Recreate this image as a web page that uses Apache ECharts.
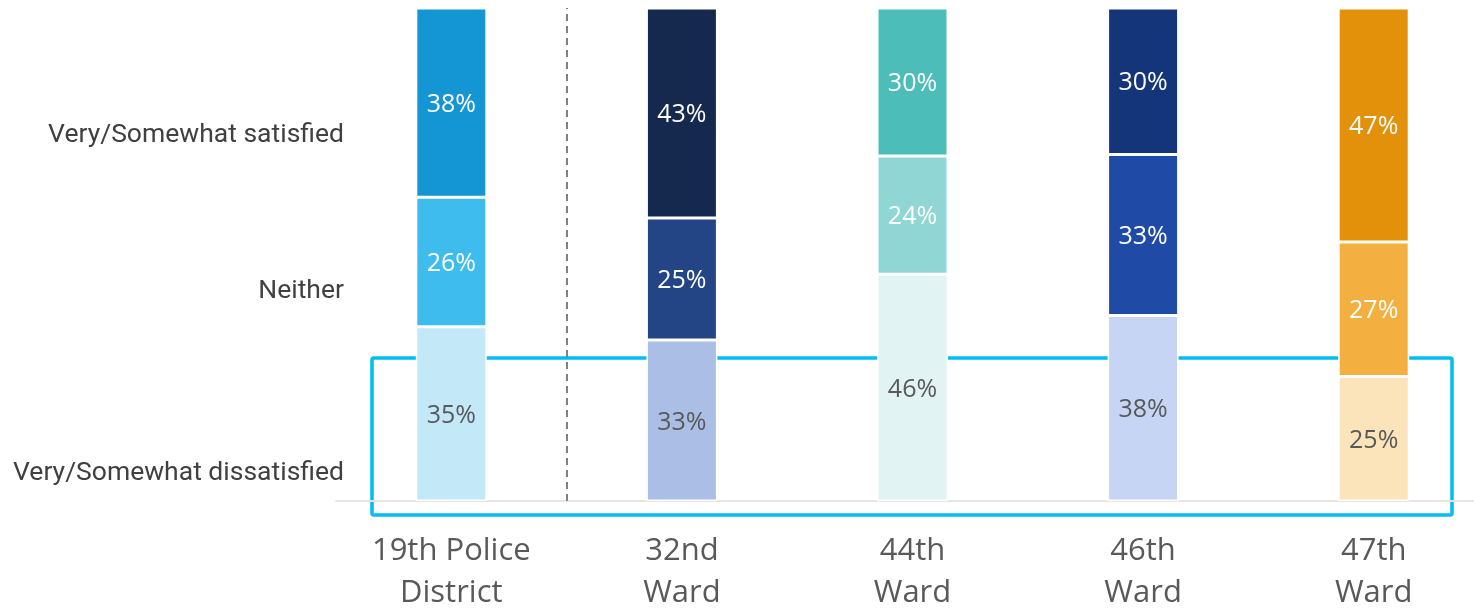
<!DOCTYPE html>
<html>
<head>
<meta charset="utf-8">
<script src="https://cdn.jsdelivr.net/npm/echarts@6/dist/echarts.min.js"></script>
<style>
html,body{margin:0;padding:0;background:#fff;}
#chart{width:1474px;height:608px;}
</style>
</head>
<body>
<div id="chart"></div>
<script>
// Data
var categories = ['19th Police\nDistrict', '32nd\nWard', '44th\nWard', '46th\nWard', '47th\nWard'];
var satisfied    = [38, 43, 30, 30, 47];
var neither      = [26, 25, 24, 33, 27];
var dissatisfied = [35, 33, 46, 38, 25];
var rowLabels = ['Very/Somewhat satisfied', 'Neither', 'Very/Somewhat dissatisfied'];

// Styles
var topColors = ['#1496d4', '#15294f', '#4dbdb9', '#14357a', '#e3900b'];
var midColors = ['#3fbcee', '#234586', '#8fd6d4', '#1f4aa6', '#f3b041'];
var botColors = ['#c3e8f8', '#abbfe6', '#e1f3f3', '#c5d5f3', '#fbe3ba'];

function build(values, colors) {
  return values.map(function (v, i) {
    var total = satisfied[i] + neither[i] + dissatisfied[i];
    return { value: v / total * 100, raw: v, itemStyle: { color: colors[i] } };
  });
}

var chart = echarts.init(document.getElementById('chart'), null, { renderer: 'canvas' });

function segLabel(color) {
  return {
    show: true,
    position: 'inside',
    color: color,
    fontFamily: 'Open Sans',
    fontSize: 25,
    offset: [0, 2],
    formatter: function (p) { return p.data.raw + '%'; }
  };
}

var barCommon = {
  type: 'bar',
  stack: 'total',
  barWidth: 71,
  itemStyle: { borderColor: '#ffffff', borderWidth: 1.5 }
};

var option = {
  animation: false,
  backgroundColor: '#ffffff',
  grid: { left: 336, top: 8, width: 1153, height: 493, outerBoundsMode: 'none', containLabel: false },
  xAxis: [{
    type: 'category',
    data: categories,
    axisLine: { lineStyle: { color: '#e6e6e6', width: 2 } },
    axisTick: { show: false },
    axisLabel: {
      color: '#595959',
      fontFamily: 'Open Sans',
      fontSize: 31,
      lineHeight: 42,
      margin: 29
    }
  }, {
    type: 'value',
    min: -0.5,
    max: 4.5,
    show: false
  }],
  yAxis: {
    type: 'value',
    min: 0,
    max: 100,
    show: false
  },
  series: [
    Object.assign({}, barCommon, { name: rowLabels[2], data: build(dissatisfied, botColors), label: segLabel('#595959') }),
    Object.assign({}, barCommon, { name: rowLabels[1], data: build(neither, midColors), label: segLabel('#ffffff') }),
    Object.assign({}, barCommon, { name: rowLabels[0], data: build(satisfied, topColors), label: segLabel('#ffffff') }),
    {
      type: 'scatter',
      xAxisIndex: 1,
      data: [],
      markLine: {
        silent: true,
        symbol: ['none', 'none'],
        label: { show: false },
        lineStyle: { type: [7, 5], color: '#808080', width: 2 },
        data: [{ xAxis: 0.5 }]
      }
    }
  ],
  graphic: [
    { type: 'text', right: 1474 - 344, top: 133 - 11, style: { text: rowLabels[0], font: '26.5px Roboto', fill: '#404040' } },
    { type: 'text', right: 1474 - 344, top: 289 - 11, style: { text: rowLabels[1], font: '26.5px Roboto', fill: '#404040' } },
    { type: 'text', right: 1474 - 344, top: 471 - 11, style: { text: rowLabels[2], font: '26.5px Roboto', fill: '#404040' } },
    { type: 'rect', shape: { x: 372, y: 358, width: 1080, height: 157, r: 2 }, style: { fill: 'none', stroke: '#00bdf2', lineWidth: 3.5 } }
  ]
};
chart.setOption(option);
</script>
</body>
</html>
